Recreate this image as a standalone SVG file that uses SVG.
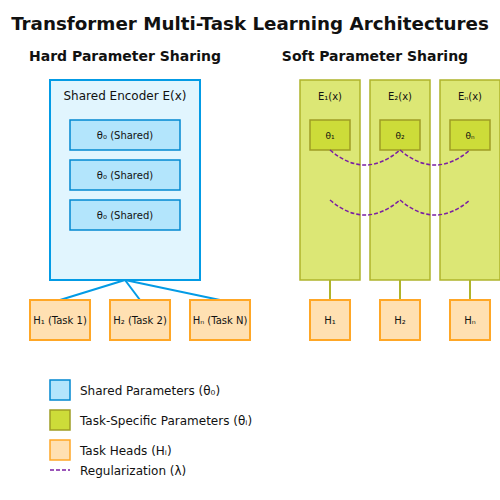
<svg xmlns="http://www.w3.org/2000/svg" width="500" height="500" viewBox="0 0 500 500">
<style>
text{font-family:"DejaVu Sans",sans-serif;fill:#111;text-anchor:middle}
.title{font-size:18.3px;font-weight:bold}
.sub{font-size:14px;font-weight:bold}
.enc{fill:#e1f5fe;stroke:#039be5;stroke-width:2}
.shp{fill:#b3e5fc;stroke:#0288d1;stroke-width:1.5}
.col{fill:#dce775;stroke:#afb42b;stroke-width:1.5}
.tsp{fill:#cddc39;stroke:#9e9d24;stroke-width:1.5}
.head{fill:#ffe0b2;stroke:#ffa726;stroke-width:2}
.t10{font-size:10px}
.t9{font-size:9px}
.t12{font-size:12px}
.leg{font-size:12px;text-anchor:start}
.blue{stroke:#039be5;stroke-width:2;fill:none}
.lime{stroke:#afb42b;stroke-width:2;fill:none}
.reg{stroke:#7b1fa2;stroke-width:1.5;stroke-dasharray:4,2;fill:none}
</style>
<rect width="500" height="500" fill="#fff"/>
<text class="title" x="250" y="30">Transformer Multi-Task Learning Architectures</text>
<text class="sub" x="125" y="61">Hard Parameter Sharing</text>
<text class="sub" x="375" y="61">Soft Parameter Sharing</text>

<g id="connectors">
<line class="blue" x1="125" y1="280" x2="60" y2="300"/>
<line class="blue" x1="125" y1="280" x2="140" y2="300"/>
<line class="blue" x1="125" y1="280" x2="220" y2="300"/>
<line class="lime" x1="330" y1="280" x2="330" y2="300"/>
<line class="lime" x1="400" y1="280" x2="400" y2="300"/>
<line class="lime" x1="470" y1="280" x2="470" y2="300"/>
</g>

<g id="shared-encoder">
<rect class="enc" x="50" y="80" width="150" height="200"/>
<text class="t12" x="125" y="100">Shared Encoder E(x)</text>
</g>
<g id="shared-1"><rect class="shp" x="70" y="120" width="110" height="30"/><text class="t10" x="125" y="139">θ₀ (Shared)</text></g>
<g id="shared-2"><rect class="shp" x="70" y="160" width="110" height="30"/><text class="t10" x="125" y="179">θ₀ (Shared)</text></g>
<g id="shared-3"><rect class="shp" x="70" y="200" width="110" height="30"/><text class="t10" x="125" y="219">θ₀ (Shared)</text></g>

<g id="head-1"><rect class="head" x="30" y="300" width="60" height="40"/><text class="t10" x="60" y="324">H₁ (Task 1)</text></g>
<g id="head-2"><rect class="head" x="110" y="300" width="60" height="40"/><text class="t10" x="140" y="324">H₂ (Task 2)</text></g>
<g id="head-n"><rect class="head" x="190" y="300" width="60" height="40"/><text class="t10" x="220" y="324">Hₙ (Task N)</text></g>

<g id="enc-1"><rect class="col" x="300" y="80" width="60" height="200"/><text class="t10" x="330" y="100">E₁(x)</text></g>
<g id="enc-2"><rect class="col" x="370" y="80" width="60" height="200"/><text class="t10" x="400" y="100">E₂(x)</text></g>
<g id="enc-n"><rect class="col" x="440" y="80" width="60" height="200"/><text class="t10" x="470" y="100">Eₙ(x)</text></g>
<g id="theta-1"><rect class="tsp" x="310" y="120" width="40" height="30"/><text class="t9" x="330" y="139">θ₁</text></g>
<g id="theta-2"><rect class="tsp" x="380" y="120" width="40" height="30"/><text class="t9" x="400" y="139">θ₂</text></g>
<g id="theta-n"><rect class="tsp" x="450" y="120" width="40" height="30"/><text class="t9" x="470" y="139">θₙ</text></g>

<g id="regularization">
<path class="reg" d="M330,150 Q365,180 400,150"/>
<path class="reg" d="M400,150 Q435,180 470,150"/>
<path class="reg" d="M330,200 Q365,230 400,200"/>
<path class="reg" d="M400,200 Q435,230 470,200"/>
</g>

<g id="soft-head-1"><rect class="head" x="310" y="300" width="40" height="40"/><text class="t10" x="330" y="324">H₁</text></g>
<g id="soft-head-2"><rect class="head" x="380" y="300" width="40" height="40"/><text class="t10" x="400" y="324">H₂</text></g>
<g id="soft-head-n"><rect class="head" x="450" y="300" width="40" height="40"/><text class="t10" x="470" y="324">Hₙ</text></g>

<g id="legend">
<rect class="shp" x="50" y="380" width="20" height="20"/>
<text class="leg" x="80" y="395">Shared Parameters (θ₀)</text>
<rect class="tsp" x="50" y="410" width="20" height="20"/>
<text class="leg" x="80" y="425">Task-Specific Parameters (θᵢ)</text>
<rect class="head" x="50" y="440" width="20" height="20" style="stroke-width:1.5"/>
<text class="leg" x="80" y="455">Task Heads (Hᵢ)</text>
<line class="reg" x1="50" y1="470" x2="70" y2="470"/>
<text class="leg" x="80" y="475">Regularization (λ)</text>
</g>
</svg>
